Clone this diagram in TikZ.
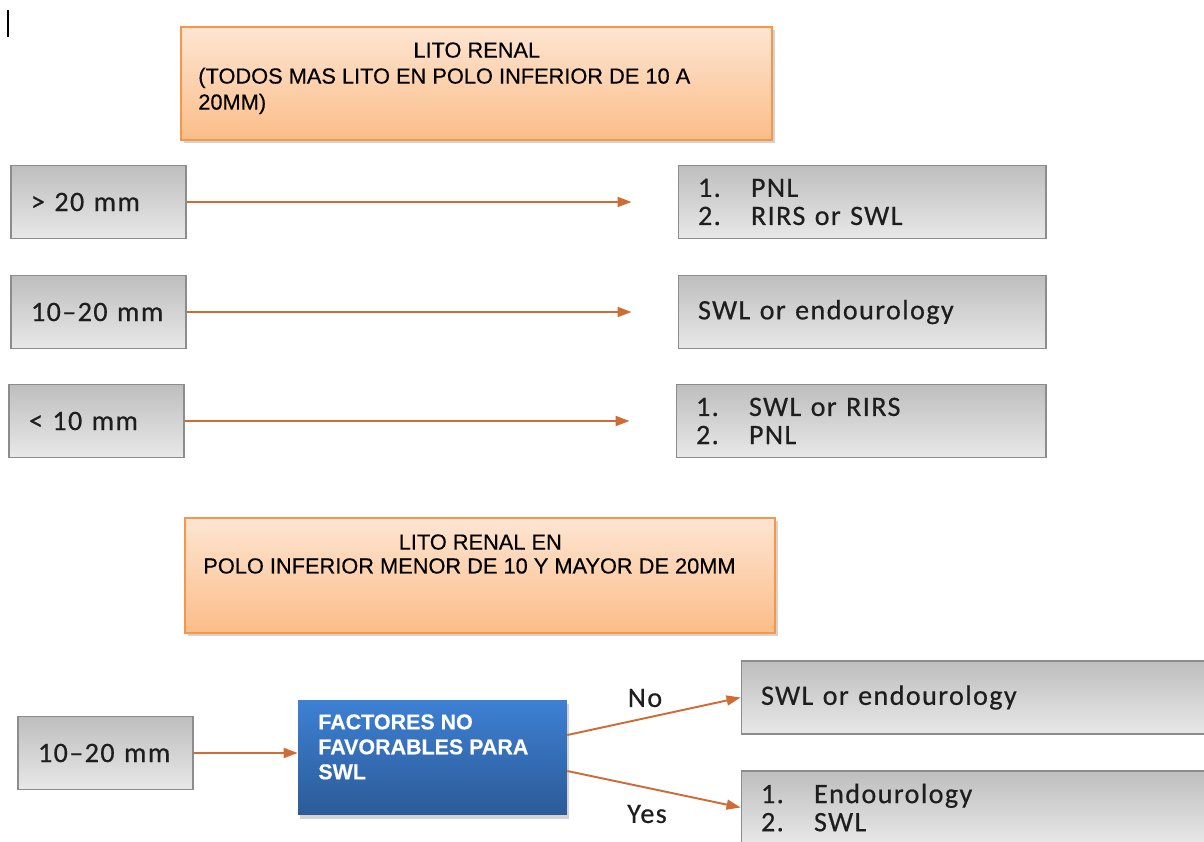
\documentclass[tikz,border=0pt]{standalone}
\usepackage{fontspec}
\setmainfont{Liberation Sans}[FakeBold=0.4]
\newfontfamily\carlito[LetterSpace=5,FakeBold=0.5]{Carlito}
\usetikzlibrary{arrows.meta,shadows}
\definecolor{peach}{HTML}{FDE5D2}
\definecolor{apricot}{HTML}{FBBD88}
\definecolor{orangeline}{HTML}{F79646}
\definecolor{greytop}{HTML}{BEBEBE}
\definecolor{greybot}{HTML}{E8E8E8}
\definecolor{greyline}{HTML}{8C8C8C}
\definecolor{bluetop}{HTML}{3D80D4}
\definecolor{bluebot}{HTML}{2C5B97}
\definecolor{rust}{HTML}{CF6B35}
\definecolor{ink}{HTML}{1E1E1E}
\newcommand{\listitem}[2]{\makebox[10.6mm][l]{#1}#2}

\begin{document}
\begin{tikzpicture}[x=0.02cm,y=-0.02cm,
  titlebox/.style={draw=orangeline,line width=.8pt,top color=peach,bottom color=apricot,minimum width=118.2mm,minimum height=22.6mm,drop shadow={shadow xshift=.6mm,shadow yshift=-.6mm,opacity=.35}},
  titletext/.style={font=\fontsize{12.4}{14.8}\selectfont,align=left,inner sep=0pt,anchor=north west,text=black},
  greybox/.style={draw=greyline,line width=.6pt,top color=greytop,bottom color=greybot,minimum height=14.6mm,inner xsep=4mm,align=left,font=\carlito\fontsize{16}{16}\selectfont,text=ink},
  factorbox/.style={top color=bluetop,bottom color=bluebot,minimum width=53.8mm,minimum height=23mm,drop shadow={shadow xshift=.4mm,shadow yshift=-.8mm,opacity=.35}},
  factortext/.style={font=\bfseries\fontsize{12.2}{14.2}\selectfont,align=left,inner sep=0pt,anchor=north west,text=white},
  branchlabel/.style={font=\carlito\fontsize{16}{16}\selectfont,text=ink},
  arrow/.style={-{Triangle[length=2.8mm,width=2mm]},line width=1.1pt,draw=rust}
]
\useasboundingbox (0,0) rectangle (1204,842);
\draw[line width=.45mm,black] (8,10) -- (8,37);

\node[titlebox] (lito) at (476.5,83.5) {};
\node[titletext] (litotext) at (198,42) {\makebox[111.4mm]{LITO RENAL}\\(TODOS MAS LITO EN POLO INFERIOR DE 10 A\\20MM)};

\node[greybox,text width=27mm] (big) at (98.5,202) {> 20 mm};
\node[greybox,text width=27mm] (medium) at (98.5,312) {10–20 mm};
\node[greybox,text width=27mm] (small) at (96.5,421) {< 10 mm};
\node[greybox,text width=65.6mm] (bigtx) at (862,202) {\listitem{1.}{PNL}\\\listitem{2.}{RIRS or SWL}};
\node[greybox,text width=65.6mm] (mediumtx) at (862,312) {SWL or endourology};
\node[greybox,text width=66mm] (smalltx) at (861,421) {\listitem{1.}{SWL or RIRS}\\\listitem{2.}{PNL}};

\draw[arrow,shorten >=9.2mm] (big) -- (bigtx);
\draw[arrow,shorten >=9.2mm] (medium) -- (mediumtx);
\draw[arrow,shorten >=9.2mm] (small) -- (smalltx);

\node[titlebox,minimum width=118mm,minimum height=23mm] (polo) at (480,575.5) {};
\node[titletext,font=\fontsize{12.4}{13.6}\selectfont] (polotext) at (203,534) {\makebox[110.8mm]{LITO RENAL EN}\\POLO INFERIOR MENOR DE 10 Y MAYOR DE 20MM};

\node[greybox,text width=27mm] (bottomsize) at (105.5,753) {10–20 mm};
\node[factorbox] (factores) at (432.5,757.5) {};
\node[factortext] (factorestext) at (318,714) {FACTORES NO\\FAVORABLES PARA\\SWL};
\node[greybox,text width=86.8mm] (notx) at (978,697.5) {SWL or endourology};
\node[greybox,text width=86.8mm] (yestx) at (978,807.5) {\listitem{1.}{Endourology}\\\listitem{2.}{SWL}};

\draw[arrow] (bottomsize.east) -- (bottomsize.east -| factores.west);
\draw[arrow] ([yshift=4.5mm]factores.east) -- (notx.west);
\draw[arrow] ([yshift=-2.7mm]factores.east) -- (yestx.west);
\node[branchlabel] (nolabel) at (645,698) {No};
\node[branchlabel] (yeslabel) at (647,814) {Yes};
\end{tikzpicture}
\end{document}
